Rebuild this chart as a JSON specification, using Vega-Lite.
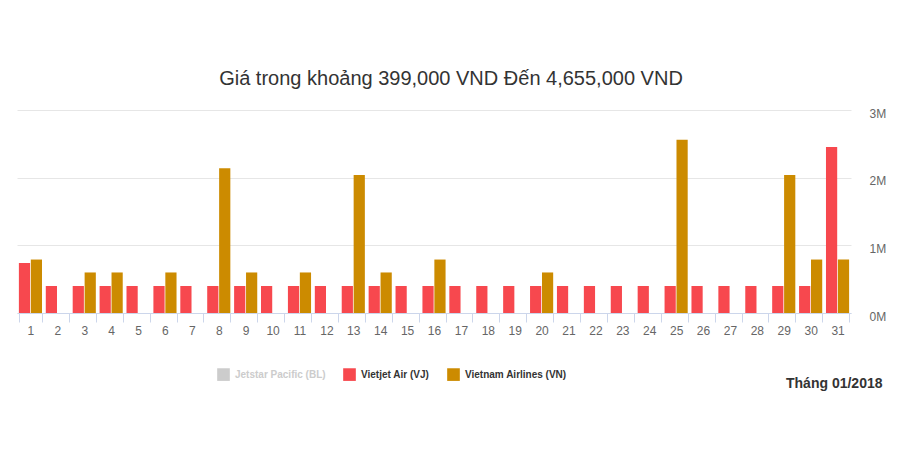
{
  "$schema": "https://vega.github.io/schema/vega-lite/v6.json",
  "autosize": "none",
  "width": 834,
  "height": 203,
  "padding": {"left": 17, "top": 110, "right": 49, "bottom": 158},
  "background": "white",
  "title": {
    "text": "Giá trong khoảng 399,000 VND Đến 4,655,000 VND",
    "font": "Liberation Sans",
    "fontSize": 20,
    "fontWeight": "normal",
    "color": "#333333",
    "anchor": "middle",
    "dx": 17,
    "offset": 18
  },
  "config": {
    "view": {"stroke": null},
    "font": "Liberation Sans"
  },
  "data": {
    "values": [
      {"day": 1, "airline": "Vietjet Air (VJ)", "price": 740000},
      {"day": 1, "airline": "Vietnam Airlines (VN)", "price": 790000},
      {"day": 2, "airline": "Vietjet Air (VJ)", "price": 399000},
      {"day": 3, "airline": "Vietjet Air (VJ)", "price": 399000},
      {"day": 3, "airline": "Vietnam Airlines (VN)", "price": 599000},
      {"day": 4, "airline": "Vietjet Air (VJ)", "price": 399000},
      {"day": 4, "airline": "Vietnam Airlines (VN)", "price": 599000},
      {"day": 5, "airline": "Vietjet Air (VJ)", "price": 399000},
      {"day": 6, "airline": "Vietjet Air (VJ)", "price": 399000},
      {"day": 6, "airline": "Vietnam Airlines (VN)", "price": 599000},
      {"day": 7, "airline": "Vietjet Air (VJ)", "price": 399000},
      {"day": 8, "airline": "Vietjet Air (VJ)", "price": 399000},
      {"day": 8, "airline": "Vietnam Airlines (VN)", "price": 2140000},
      {"day": 9, "airline": "Vietjet Air (VJ)", "price": 399000},
      {"day": 9, "airline": "Vietnam Airlines (VN)", "price": 599000},
      {"day": 10, "airline": "Vietjet Air (VJ)", "price": 399000},
      {"day": 11, "airline": "Vietjet Air (VJ)", "price": 399000},
      {"day": 11, "airline": "Vietnam Airlines (VN)", "price": 599000},
      {"day": 12, "airline": "Vietjet Air (VJ)", "price": 399000},
      {"day": 13, "airline": "Vietjet Air (VJ)", "price": 399000},
      {"day": 13, "airline": "Vietnam Airlines (VN)", "price": 2040000},
      {"day": 14, "airline": "Vietjet Air (VJ)", "price": 399000},
      {"day": 14, "airline": "Vietnam Airlines (VN)", "price": 599000},
      {"day": 15, "airline": "Vietjet Air (VJ)", "price": 399000},
      {"day": 16, "airline": "Vietjet Air (VJ)", "price": 399000},
      {"day": 16, "airline": "Vietnam Airlines (VN)", "price": 790000},
      {"day": 17, "airline": "Vietjet Air (VJ)", "price": 399000},
      {"day": 18, "airline": "Vietjet Air (VJ)", "price": 399000},
      {"day": 19, "airline": "Vietjet Air (VJ)", "price": 399000},
      {"day": 20, "airline": "Vietjet Air (VJ)", "price": 399000},
      {"day": 20, "airline": "Vietnam Airlines (VN)", "price": 599000},
      {"day": 21, "airline": "Vietjet Air (VJ)", "price": 399000},
      {"day": 22, "airline": "Vietjet Air (VJ)", "price": 399000},
      {"day": 23, "airline": "Vietjet Air (VJ)", "price": 399000},
      {"day": 24, "airline": "Vietjet Air (VJ)", "price": 399000},
      {"day": 25, "airline": "Vietjet Air (VJ)", "price": 399000},
      {"day": 25, "airline": "Vietnam Airlines (VN)", "price": 2560000},
      {"day": 26, "airline": "Vietjet Air (VJ)", "price": 399000},
      {"day": 27, "airline": "Vietjet Air (VJ)", "price": 399000},
      {"day": 28, "airline": "Vietjet Air (VJ)", "price": 399000},
      {"day": 29, "airline": "Vietjet Air (VJ)", "price": 399000},
      {"day": 29, "airline": "Vietnam Airlines (VN)", "price": 2040000},
      {"day": 30, "airline": "Vietjet Air (VJ)", "price": 399000},
      {"day": 30, "airline": "Vietnam Airlines (VN)", "price": 790000},
      {"day": 31, "airline": "Vietjet Air (VJ)", "price": 2455000},
      {"day": 31, "airline": "Vietnam Airlines (VN)", "price": 790000}
    ]
  },
  "mark": {"type": "bar"},
  "encoding": {
    "x": {
      "field": "day",
      "type": "ordinal",
      "scale": {"paddingInner": 0.14, "paddingOuter": 0.07},
      "axis": {
        "title": "Tháng 01/2018",
        "titleFont": "Liberation Sans",
        "titleFontSize": 14,
        "titleFontWeight": "bold",
        "titleColor": "#333333",
        "titleAnchor": "end",
        "titleAlign": "right",
        "titleBaseline": "middle",
        "titleX": 865,
        "titleY": 70,
        "labelAngle": 0,
        "labelFontSize": 12,
        "labelColor": "#666666",
        "labelPadding": 3,
        "tickBand": "extent",
        "tickSize": 9,
        "tickColor": "#ccd6eb",
        "domainColor": "#ccd6eb",
        "grid": false
      }
    },
    "xOffset": {
      "field": "airline",
      "type": "nominal",
      "scale": {"domain": ["Vietjet Air (VJ)", "Vietnam Airlines (VN)"], "paddingInner": 0.06}
    },
    "y": {
      "field": "price",
      "type": "quantitative",
      "scale": {"domain": [0, 3000000], "nice": false},
      "axis": {
        "orient": "right",
        "title": null,
        "values": [0, 1000000, 2000000, 3000000],
        "labelExpr": "(datum.value / 1000000) + 'M'",
        "labelFontSize": 12,
        "labelColor": "#666666",
        "labelPadding": 18,
        "labelOffset": 3,
        "ticks": false,
        "domain": false,
        "gridColor": "#e6e6e6"
      }
    },
    "color": {
      "field": "airline",
      "type": "nominal",
      "scale": {
        "domain": ["Jetstar Pacific (BL)", "Vietjet Air (VJ)", "Vietnam Airlines (VN)"],
        "range": ["#cccccc", "#f7484e", "#cc8b00"]
      },
      "legend": {
        "title": null,
        "orient": "none",
        "direction": "horizontal",
        "legendX": 200,
        "legendY": 258,
        "symbolType": "square",
        "symbolSize": 160,
        "symbolStrokeWidth": 0,
        "symbolOpacity": 1,
        "labelFontSize": 10,
        "labelFontWeight": "bold",
        "labelColor": "#333333",
        "labelOffset": 5,
        "columnPadding": 17,
        "encode": {
          "labels": {
            "update": {
              "fill": {"signal": "datum.value === 'Jetstar Pacific (BL)' ? '#cccccc' : '#333333'"}
            }
          }
        }
      }
    }
  }
}
